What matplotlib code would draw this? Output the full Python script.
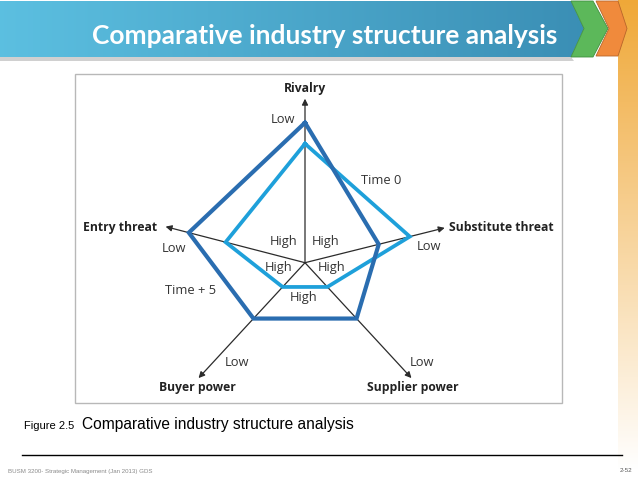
import numpy as np
import matplotlib
matplotlib.use('Agg')
import matplotlib.pyplot as plt
from matplotlib.patches import Polygon, Rectangle

# five forces, clockwise from the top
categories = ['Rivalry', 'Substitute threat', 'Supplier power', 'Buyer power', 'Entry threat']
axis_angles = [90, 14, -47.3, -132.7, 165.5]      # degrees
axis_lengths = [164, 144, 157, 157, 144]
# distance from centre ("High") towards the arrow ("Low")
time_0 = [119, 108, 33, 33, 82]
time_5 = [140, 76, 76, 76, 120]

title = 'Comparative industry structure analysis'
caption = 'Comparative industry structure analysis'
footer = 'BUSM 3200- Strategic Management (Jan 2013) GDS'
page = '2-52'

CX, CY = 305, 262.7


def to_xy(radii):
    ang = np.radians(axis_angles)
    r = np.asarray(radii, dtype=float)
    return CX + r * np.cos(ang), CY - r * np.sin(ang)


def gradient_fill(ax, verts, c1, c2, vertical=False, z=1):
    """Fill a polygon with a linear two-colour gradient."""
    verts = np.asarray(verts, dtype=float)
    poly = Polygon(verts, closed=True, facecolor='none', edgecolor='none', zorder=z)
    ax.add_patch(poly)
    t = np.linspace(0, 1, 256)[:, None]
    cols = np.array(c1)[None, :] * (1 - t) + np.array(c2)[None, :] * t
    img = cols[:, None, :] if vertical else cols[None, :, :]
    x0, x1 = verts[:, 0].min(), verts[:, 0].max()
    y0, y1 = verts[:, 1].min(), verts[:, 1].max()
    im = ax.imshow(img, extent=(x0, x1, y1, y0), aspect='auto', zorder=z,
                   interpolation='bilinear')
    im.set_clip_path(poly)


fig = plt.figure(figsize=(6.38, 4.79), dpi=100)
ax = fig.add_axes([0, 0, 1, 1])

# right hand decorative strip
gradient_fill(ax, [(618, 0), (638, 0), (638, 470), (618, 470)],
              (0.94, 0.66, 0.22), (1.0, 1.0, 1.0), vertical=True, z=1)

# banner shadow + bar + chevrons
ax.add_patch(Polygon([(0, 57), (571, 57), (574, 61), (0, 61)], closed=True,
                     facecolor='#d0d0d0', edgecolor='none', zorder=2))
gradient_fill(ax, [(0, 1), (571, 1), (584, 28.5), (571, 57), (0, 57)],
              (0.36, 0.75, 0.88), (0.23, 0.56, 0.71), z=3)
ax.add_patch(Polygon([(571, 1), (593, 1), (608, 28.5), (593, 57), (571, 57), (584, 28.5)],
                     closed=True, facecolor='#5cb85a', edgecolor='#3f8f3e', lw=0.6, zorder=3))
ax.add_patch(Polygon([(596, 1), (618, 1), (627, 28.5), (618, 56), (596, 56), (609, 28.5)],
                     closed=True, facecolor='#f08a3c', edgecolor='#b8652a', lw=0.6, zorder=3))
ax.text(324.5, 36, title, ha='center', va='center', color='white',
        fontsize=19, fontweight='bold', family='Lato', zorder=4)

# chart frame
ax.add_patch(Rectangle((75, 74), 487, 329, fill=False, edgecolor='#b8b8b8', lw=1, zorder=2))

# axes with arrows
tx, ty = to_xy(axis_lengths)
for x, y in zip(tx, ty):
    ax.annotate('', xy=(x, y), xytext=(CX, CY),
                arrowprops=dict(arrowstyle='-|>', color='#2b2b2b', lw=0.9,
                                mutation_scale=9, shrinkA=0, shrinkB=0), zorder=4)

# the two profiles
for radii, col, lw, z in [(time_0, '#1ea0da', 2.7, 5), (time_5, '#2a6db0', 3.0, 6)]:
    px, py = to_xy(radii)
    ax.plot(np.append(px, px[0]), np.append(py, py[0]), color=col, lw=lw,
            solid_joinstyle='miter', zorder=z)

bold = dict(fontsize=8.7, fontweight='bold', color='#222222', family='Open Sans', zorder=7)
reg = dict(fontsize=9.3, color='#333333', family='Open Sans', zorder=7)
ax.text(305, 88, categories[0], ha='center', va='center', **bold)
ax.text(449, 227, categories[1], ha='left', va='center', **bold)
ax.text(413, 388, categories[2], ha='center', va='center', **bold)
ax.text(197, 388, categories[3], ha='center', va='center', **bold)
ax.text(157, 227, categories[4], ha='right', va='center', **bold)

for (x, y, s) in [(283, 119, 'Low'), (429, 246, 'Low'), (174, 248, 'Low'),
                  (237, 362, 'Low'), (422, 362, 'Low'),
                  (381, 180, 'Time 0'), (191, 291, 'Time + 5'),
                  (284, 241, 'High'), (326, 241, 'High'), (279, 267, 'High'),
                  (332, 267, 'High'), (304, 298, 'High')]:
    ax.text(x, y, s, ha='center', va='center', **reg)

# caption and footer
ax.text(24, 426, 'Figure 2.5', ha='left', va='center', fontsize=8, family='Liberation Sans')
ax.text(82, 425, caption, ha='left', va='center', fontsize=11.2, family='Liberation Sans')
ax.plot([22, 622], [455, 455], color='black', lw=1, zorder=3)
ax.text(8, 471, footer, ha='left', va='center', fontsize=4.4, color='#8a8a8a',
        family='Liberation Sans')
ax.text(632, 471, page, ha='right', va='center', fontsize=4.5, color='#555555',
        family='Liberation Sans')

ax.set_xlim(0, 638)
ax.set_ylim(479, 0)
ax.axis('off')
fig.savefig('out.png', dpi=100)
